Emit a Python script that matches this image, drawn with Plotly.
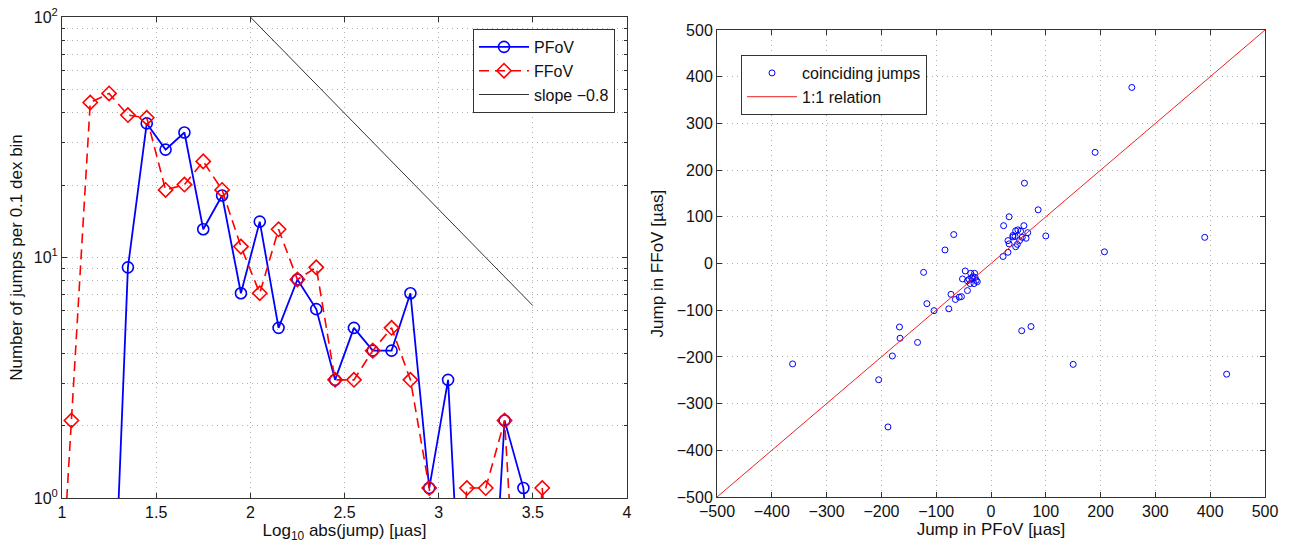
import plotly.graph_objects as go

# ---------------- data: left panel (histogram of jump sizes) ----------------
bin_centers = [0.95, 1.05, 1.15, 1.25, 1.35, 1.45, 1.55, 1.65, 1.75, 1.85, 1.95,
               2.05, 2.15, 2.25, 2.35, 2.45, 2.55, 2.65, 2.75, 2.85, 2.95,
               3.05, 3.15, 3.25, 3.35, 3.45, 3.55, 3.65]
pfov_counts = [0, 0, 0, 0, 9, 36, 28, 33, 13, 18, 7,
               14, 5, 8, 6, 3, 5, 4, 4, 7, 1,
               3, 0, 0, 2, 1, 0, 0]
ffov_counts = [0, 2, 44, 48, 39, 38, 19, 20, 25, 19, 11,
               7, 13, 8, 9, 3, 3, 4, 5, 3, 1,
               0, 1, 1, 2, 0, 1, 0]
count_offset = 0.1          # offset added so that empty bins can be shown on log axis
slope_x = [2.0, 3.5]
slope_value = -0.8
slope_anchor = 100.0

# ---------------- data: right panel (coinciding jumps) ----------------
jump_pfov = [257, 190, 61, 86, 33, 23, 60, 100, 390, 207, -68, -84, -123, -117,
             -104, -77, -73, -65, -58, -54, -167, -166, -134, -180, -205, -188,
             -362, 56, 73, 150, 430, 22,
             49, 45, 54, 67, 40, 44, 31, 33, 48, 57, 64, 45, 31, 52, 40,
             -47, -37, -30, -52, -43, -35, -27, -38, -31, -43, -33, -29, -40, -25]
jump_ffov = [377, 238, 172, 115, 100, 81, 81, 59, 56, 25, 62, 29, -19, -86,
             -101, -97, -66, -77, -72, -71, -136, -160, -169, -198, -249, -350,
             -215, -144, -135, -216, -237, 15,
             72, 70, 69, 66, 57, 58, 49, 42, 41, 56, 54, 36, 24, 49, 60,
             -16, -21, -21, -33, -37, -31, -36, -43, -43, -58, -28, -30, -34, -39]
one_to_one = [-500, 500]

W, H = 1297, 549
FONT = "Liberation Sans, Arial, Helvetica, sans-serif"
TXT = "#111111"

pfov_plot = [c + count_offset for c in pfov_counts]
ffov_plot = [c + count_offset for c in ffov_counts]
slope_y = [slope_anchor * 10 ** (slope_value * (x - slope_x[0])) for x in slope_x]

fig = go.Figure()

fig.add_trace(go.Scatter(
    x=bin_centers, y=pfov_plot, name="PFoV", mode="lines+markers",
    line=dict(color="#0000ff", width=1.8),
    marker=dict(symbol="circle-open", size=11, color="#0000ff", line=dict(width=1.6)),
    xaxis="x", yaxis="y", legend="legend"))
fig.add_trace(go.Scatter(
    x=bin_centers, y=ffov_plot, name="FFoV", mode="lines+markers",
    line=dict(color="#ff0000", width=1.6, dash="10px,6px"),
    marker=dict(symbol="diamond-open", size=11, color="#ff0000", line=dict(width=1.6)),
    xaxis="x", yaxis="y", legend="legend"))
fig.add_trace(go.Scatter(
    x=slope_x, y=slope_y, name="slope \u22120.8", mode="lines",
    line=dict(color="#333333", width=1),
    xaxis="x", yaxis="y", legend="legend"))

fig.add_trace(go.Scatter(
    x=jump_pfov, y=jump_ffov, name="coinciding jumps", mode="markers",
    marker=dict(symbol="circle-open", size=6, color="#0000ff", line=dict(width=1)),
    xaxis="x2", yaxis="y2", legend="legend2"))
fig.add_trace(go.Scatter(
    x=one_to_one, y=one_to_one, name="1:1 relation", mode="lines",
    line=dict(color="#ee2222", width=1),
    xaxis="x2", yaxis="y2", legend="legend2"))

GRID = "#b0b0b0"
GDASH = "1px,4px"
axis_common = dict(
    showline=True, linecolor="#333333", linewidth=1, mirror="ticks",
    ticks="inside", ticklen=5, tickcolor="#333333",
    showgrid=True, gridcolor=GRID, griddash=GDASH, gridwidth=1,
    zeroline=False, automargin=False,
    tickfont=dict(family=FONT, size=16, color=TXT),
    title_font=dict(family=FONT, size=17, color=TXT),
)

minor_vals = [m * 10 ** e for e in (0, 1) for m in range(2, 10)]

fig.update_layout(
    width=W, height=H,
    margin=dict(l=0, r=0, t=0, b=0),
    paper_bgcolor="white", plot_bgcolor="white",
    font=dict(family=FONT, size=16, color=TXT),
    xaxis=dict(axis_common, domain=[62 / W, 627 / W], range=[1, 4],
               tickvals=[1, 1.5, 2, 2.5, 3, 3.5, 4],
               ticktext=["1", "1.5", "2", "2.5", "3", "3.5", "4"],
               title=dict(text="Log<sub>10</sub> abs(jump) [\u00b5as]", standoff=0),
               anchor="y"),
    yaxis=dict(axis_common, domain=[1 - 498 / H, 1 - 17 / H], type="log", range=[0, 2],
               tickvals=[1, 10, 100],
               ticktext=["10<sup>0</sup>", "10<sup>1</sup>", "10<sup>2</sup>"],
               minor=dict(tickvals=minor_vals, showgrid=True, gridcolor=GRID,
                          griddash=GDASH, ticks="inside", ticklen=3, tickcolor="#333333"),
               title=dict(text="Number of jumps per 0.1 dex bin", standoff=6),
               anchor="x"),
    xaxis2=dict(axis_common, domain=[717 / W, 1265 / W], range=[-500, 500],
                tickvals=list(range(-500, 501, 100)),
                title=dict(text="Jump in PFoV [\u00b5as]", standoff=0),
                anchor="y2"),
    yaxis2=dict(axis_common, domain=[1 - 497 / H, 1 - 30 / H], range=[-500, 500],
                tickvals=list(range(-500, 501, 100)),
                title=dict(text="Jump in FFoV [\u00b5as]", standoff=8),
                anchor="x2"),
    legend=dict(x=473 / W, y=1 - 29 / H, xanchor="left", yanchor="top",
                bgcolor="white", bordercolor="#333333", borderwidth=1,
                font=dict(family=FONT, size=16, color=TXT),
                tracegroupgap=0, itemwidth=50),
    legend2=dict(x=741 / W, y=1 - 55 / H, xanchor="left", yanchor="top",
                 bgcolor="white", bordercolor="#333333", borderwidth=1,
                 font=dict(family=FONT, size=16, color=TXT),
                 tracegroupgap=0, itemwidth=50),
    showlegend=True,
)

fig.write_html("out.html",
               config={"displayModeBar": False},
               post_script="document.body.style.margin='0';document.body.style.overflow='hidden';")
